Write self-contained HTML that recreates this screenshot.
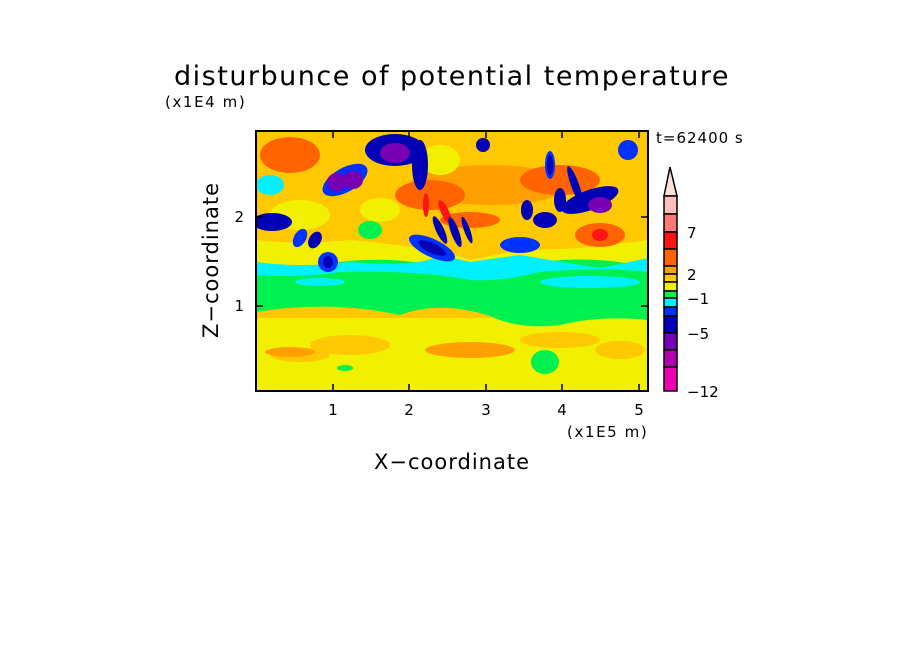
<!DOCTYPE html>
<html><head><style>
body{margin:0;background:#fff;}
svg text{font-family:"DejaVu Sans","Liberation Sans",sans-serif;fill:#000;}
</style></head><body>
<svg width="904" height="654" viewBox="0 0 904 654" xmlns="http://www.w3.org/2000/svg">
<rect width="904" height="654" fill="#fff"/>
<text x="452" y="85" font-size="27" text-anchor="middle" letter-spacing="1.5">disturbunce of potential temperature</text>
<text x="165" y="107" font-size="15" letter-spacing="1.6">(x1E4 m)</text>
<text x="656" y="143" font-size="15" letter-spacing="1">t=62400 s</text>
<defs><clipPath id="c"><rect x="256" y="131" width="392" height="260"/></clipPath></defs>
<g clip-path="url(#c)">
<rect x="256" y="131" width="392" height="260" fill="#ffc800"/>
<rect x="256" y="318" width="392" height="73" fill="#f0f000"/>
<path d="M256 240 Q300 245 350 240 Q400 245 440 250 L470 260 L520 250 Q580 250 648 240 L648 268 L256 268 Z" fill="#f0f000"/>
<path d="M256 265 Q300 270 340 262 Q400 255 450 270 Q500 280 540 262 Q600 255 648 268 L648 320 Q600 315 560 325 Q520 330 490 316 Q440 300 400 315 Q330 300 256 312 Z" fill="#00f050"/>
<path d="M256 262 Q300 268 350 262 Q420 268 440 255 L470 262 L520 255 Q560 262 600 268 Q630 262 648 258 L648 272 Q600 266 540 272 Q500 282 470 280 Q420 270 340 272 Q300 278 256 275 Z" fill="#00f0ff"/>
<ellipse cx="320" cy="282" rx="25" ry="4" fill="#00f0ff"/>
<ellipse cx="590" cy="282" rx="50" ry="6" fill="#00f0ff"/>
<ellipse cx="300" cy="355" rx="30" ry="7" fill="#ffc800"/>
<ellipse cx="470" cy="350" rx="45" ry="8" fill="#ffa000"/>
<ellipse cx="350" cy="345" rx="40" ry="10" fill="#ffc800"/>
<ellipse cx="560" cy="340" rx="40" ry="8" fill="#ffc800"/>
<ellipse cx="620" cy="350" rx="25" ry="9" fill="#ffc800"/>
<ellipse cx="290" cy="352" rx="25" ry="5" fill="#ffa000"/>
<ellipse cx="545" cy="362" rx="14" ry="12" fill="#00f050"/>
<ellipse cx="345" cy="368" rx="8" ry="3" fill="#00f050"/>
<ellipse cx="290" cy="155" rx="30" ry="18" fill="#ff6400"/>
<ellipse cx="490" cy="185" rx="80" ry="20" fill="#ffa000"/>
<ellipse cx="560" cy="180" rx="40" ry="15" fill="#ff6400"/>
<ellipse cx="430" cy="195" rx="35" ry="15" fill="#ff6400"/>
<ellipse cx="440" cy="160" rx="20" ry="15" fill="#f0f000"/>
<ellipse cx="470" cy="220" rx="30" ry="8" fill="#ff6400"/>
<ellipse cx="426" cy="205" rx="3" ry="12" fill="#ff1414"/>
<ellipse cx="445" cy="212" rx="4" ry="13" fill="#ff1414" transform="rotate(-25 445 212)"/>
<ellipse cx="600" cy="235" rx="25" ry="12" fill="#ff6400"/>
<ellipse cx="600" cy="235" rx="8" ry="6" fill="#ff1414"/>
<ellipse cx="300" cy="215" rx="30" ry="15" fill="#f0f000"/>
<ellipse cx="270" cy="185" rx="14" ry="10" fill="#00f0ff"/>
<ellipse cx="380" cy="210" rx="20" ry="12" fill="#f0f000"/>
<ellipse cx="370" cy="230" rx="12" ry="9" fill="#00f050"/>
<ellipse cx="272" cy="222" rx="20" ry="9" fill="#0000b4"/>
<ellipse cx="300" cy="238" rx="6" ry="10" fill="#0032ff" transform="rotate(30 300 238)"/>
<ellipse cx="315" cy="240" rx="6" ry="9" fill="#0000b4" transform="rotate(30 315 240)"/>
<ellipse cx="328" cy="262" rx="10" ry="10" fill="#0032ff"/>
<ellipse cx="328" cy="262" rx="5" ry="6" fill="#0000b4"/>
<ellipse cx="345" cy="180" rx="25" ry="12" fill="#0032ff" transform="rotate(-30 345 180)"/>
<ellipse cx="337" cy="182" rx="10" ry="9" fill="#7800b4"/>
<ellipse cx="353" cy="180" rx="10" ry="9" fill="#7800b4"/>
<ellipse cx="395" cy="150" rx="30" ry="16" fill="#0000b4"/>
<ellipse cx="395" cy="153" rx="15" ry="10" fill="#7800b4"/>
<ellipse cx="420" cy="165" rx="8" ry="25" fill="#0000b4"/>
<ellipse cx="432" cy="248" rx="25" ry="9" fill="#0032ff" transform="rotate(25 432 248)"/>
<ellipse cx="432" cy="248" rx="15" ry="5" fill="#0000b4" transform="rotate(25 432 248)"/>
<ellipse cx="440" cy="230" rx="4" ry="15" fill="#0000b4" transform="rotate(-25 440 230)"/>
<ellipse cx="455" cy="232" rx="4" ry="16" fill="#0000b4" transform="rotate(-20 455 232)"/>
<ellipse cx="467" cy="230" rx="3" ry="14" fill="#0000b4" transform="rotate(-20 467 230)"/>
<ellipse cx="483" cy="145" rx="7" ry="7" fill="#0000b4"/>
<ellipse cx="520" cy="245" rx="20" ry="8" fill="#0032ff"/>
<ellipse cx="545" cy="220" rx="12" ry="8" fill="#0000b4"/>
<ellipse cx="527" cy="210" rx="6" ry="10" fill="#0000b4"/>
<ellipse cx="560" cy="200" rx="6" ry="12" fill="#0000b4"/>
<ellipse cx="590" cy="200" rx="30" ry="10" fill="#0000b4" transform="rotate(-20 590 200)"/>
<ellipse cx="600" cy="205" rx="12" ry="8" fill="#7800b4"/>
<ellipse cx="575" cy="185" rx="4" ry="20" fill="#0000b4" transform="rotate(-20 575 185)"/>
<ellipse cx="628" cy="150" rx="10" ry="10" fill="#0032ff"/>
<ellipse cx="550" cy="165" rx="5" ry="14" fill="#0032ff"/>
<ellipse cx="550" cy="165" rx="3" ry="10" fill="#0000b4"/>
</g>
<rect x="256" y="131" width="392" height="260" fill="none" stroke="#000" stroke-width="2"/>
<g stroke="#000" stroke-width="1.5">
<line x1="333" y1="391" x2="333" y2="384"/><line x1="409" y1="391" x2="409" y2="384"/>
<line x1="486" y1="391" x2="486" y2="384"/><line x1="562" y1="391" x2="562" y2="384"/>
<line x1="639" y1="391" x2="639" y2="384"/>
<line x1="333" y1="131" x2="333" y2="138"/><line x1="409" y1="131" x2="409" y2="138"/>
<line x1="486" y1="131" x2="486" y2="138"/><line x1="562" y1="131" x2="562" y2="138"/>
<line x1="639" y1="131" x2="639" y2="138"/>
<line x1="256" y1="306" x2="263" y2="306"/><line x1="256" y1="217" x2="263" y2="217"/>
<line x1="648" y1="306" x2="641" y2="306"/><line x1="648" y1="217" x2="641" y2="217"/>
</g>
<text x="333" y="415" font-size="15" text-anchor="middle">1</text>
<text x="409" y="415" font-size="15" text-anchor="middle">2</text>
<text x="486" y="415" font-size="15" text-anchor="middle">3</text>
<text x="562" y="415" font-size="15" text-anchor="middle">4</text>
<text x="639" y="415" font-size="15" text-anchor="middle">5</text>
<text x="244" y="311" font-size="15" text-anchor="end">1</text>
<text x="244" y="222" font-size="15" text-anchor="end">2</text>
<text x="567" y="437" font-size="15" letter-spacing="1.6">(x1E5 m)</text>
<text x="452" y="469" font-size="21" text-anchor="middle" letter-spacing="1">X−coordinate</text>
<text transform="translate(218,260) rotate(-90)" font-size="21" text-anchor="middle" letter-spacing="1">Z−coordinate</text>
<g stroke="#000" stroke-width="1.5">
<polygon points="670,167 664,196 677,196" fill="#ffe0d8"/>
<rect x="664" y="196" width="13" height="18" fill="#ffbebe"/>
<rect x="664" y="214" width="13" height="18" fill="#ff7878"/>
<rect x="664" y="232" width="13" height="17" fill="#ff1414"/>
<rect x="664" y="249" width="13" height="17" fill="#ff6400"/>
<rect x="664" y="266" width="13" height="8" fill="#ffa000"/>
<rect x="664" y="274" width="13" height="8" fill="#ffc800"/>
<rect x="664" y="282" width="13" height="9" fill="#f0f000"/>
<rect x="664" y="291" width="13" height="7" fill="#00f050"/>
<rect x="664" y="298" width="13" height="9" fill="#00f0ff"/>
<rect x="664" y="307" width="13" height="9" fill="#0032ff"/>
<rect x="664" y="316" width="13" height="17" fill="#0000b4"/>
<rect x="664" y="333" width="13" height="17" fill="#7800b4"/>
<rect x="664" y="350" width="13" height="17" fill="#b400b4"/>
<rect x="664" y="367" width="13" height="24" fill="#f000b4"/>
</g>
<text x="687" y="238" font-size="15">7</text>
<text x="687" y="280" font-size="15">2</text>
<text x="687" y="304" font-size="15">−1</text>
<text x="687" y="339" font-size="15">−5</text>
<text x="687" y="397" font-size="15">−12</text>
</svg>
</body></html>
